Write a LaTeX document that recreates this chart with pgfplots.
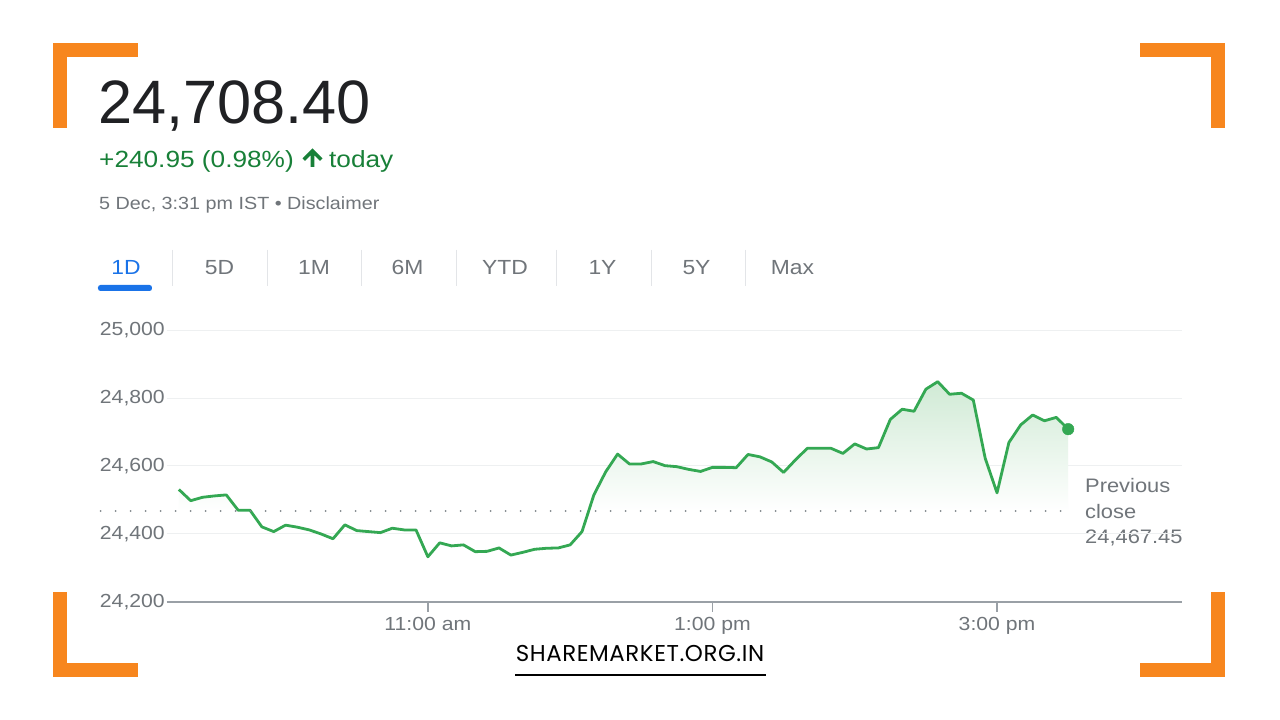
\documentclass[border=0pt]{standalone}
\usepackage{fontspec}
\usepackage{pgfplots}
\usepackage{pgfplotstable}
\pgfplotsset{compat=1.18}
\setmainfont{Liberation Sans}[FakeStretch=1.12]
\newfontfamily\plainsans{Liberation Sans}
\newfontfamily\wmfont{Poppins}[LetterSpace=2.5]
\definecolor{gtext}{HTML}{188038}
\definecolor{gline}{HTML}{34A853}
\definecolor{ggray}{HTML}{70757A}
\definecolor{gdark}{HTML}{202124}
\definecolor{gblue}{HTML}{1A73E8}
\definecolor{orng}{HTML}{F7861E}
\definecolor{gridc}{HTML}{EEF0F1}
\definecolor{axisc}{HTML}{9AA0A6}
\definecolor{sepc}{HTML}{E3E5E8}
\definecolor{dotc}{HTML}{80868B}
\definecolor{fillg}{HTML}{D0EAD5}
\pgfdeclareverticalshading{pcfill}{100bp}{color(0bp)=(white); color(25bp)=(white); color(38bp)=(white); color(75bp)=(fillg); color(100bp)=(fillg)}

\pgfplotstableread{
t v
555 24531
560 24498
565 24508
570 24512
575 24515
580 24470
585 24470
590 24421
595 24407
600 24426
605 24420
610 24412
615 24400
620 24386
625 24427
630 24410
635 24407
640 24404
645 24417
650 24412
655 24412
660 24333
665 24374
670 24365
675 24368
680 24348
685 24349
690 24359
695 24338
700 24346
705 24355
710 24358
715 24359
720 24368
725 24407
730 24515
735 24583
740 24635
745 24606
750 24606
755 24613
760 24601
765 24598
770 24590
775 24584
780 24596
785 24596
790 24595
795 24634
800 24627
805 24612
810 24581
815 24618
820 24652
825 24652
830 24652
835 24637
840 24665
845 24650
850 24654
855 24737
860 24767
865 24761
870 24826
875 24848
880 24811
885 24814
890 24794
895 24623
900 24521
905 24669
910 24721
915 24750
920 24733
925 24743
930 24708.4
}\pricedata

\begin{document}
\begin{tikzpicture}[x=1bp,y=1bp]
\useasboundingbox (-167,-118) rectangle (1113,602);
\begin{scope}[shift={(-167,-118)}]
\fill[white] (0,0) rectangle (1280,720);
% orange corner brackets
\fill[orng] (53,677) rectangle (138,663);
\fill[orng] (53,677) rectangle (67,592);
\fill[orng] (1140,677) rectangle (1225,663);
\fill[orng] (1211,677) rectangle (1225,592);
\fill[orng] (53,57) rectangle (138,43);
\fill[orng] (53,128) rectangle (67,43);
\fill[orng] (1140,57) rectangle (1225,43);
\fill[orng] (1211,128) rectangle (1225,43);

% header texts
\node[anchor=base west, inner sep=0, text=gdark] at (98,596) {\plainsans\fontsize{61.5}{62}\selectfont 24,708.40};
\node[anchor=base west, inner sep=0, text=gtext] at (99,552) {\fontsize{23.5}{24}\selectfont +240.95 (0.98\%)};
\fill[gtext] (302.5,561.5) -- (312.5,571.5) -- (322.5,561.5) -- (320,559) -- (314.3,564.7) -- (314.3,553) -- (310.7,553) -- (310.7,564.7) -- (305,559) -- cycle;
\node[anchor=base west, inner sep=0, text=gtext] at (329,552) {\fontsize{23.5}{24}\selectfont today};
\node[anchor=base west, inner sep=0, text=ggray] at (99,510) {\fontsize{17.7}{18}\selectfont 5 Dec, 3:31 pm IST • Disclaimer};

% tabs
\node[anchor=base, inner sep=0, text=gblue] at (126,445) {\fontsize{20.5}{21}\selectfont 1D};
\foreach \x/\l in {219.5/5D, 314/1M, 407.5/6M, 505/YTD, 602.5/1Y, 696.5/5Y, 792.5/Max}
  \node[anchor=base, inner sep=0, text=ggray] at (\x,445) {\fontsize{20.5}{21}\selectfont \l};
\foreach \x in {173,267,361,456,556,651,745}
  \draw[sepc, line width=1bp] (\x,470) -- (\x,434);
\fill[gblue, rounded corners=2.5bp] (98,429) rectangle (152,435);

% previous close label
\node[anchor=base west, inner sep=0, text=ggray] at (1085,227.5) {\fontsize{19.6}{20}\selectfont Previous};
\node[anchor=base west, inner sep=0, text=ggray] at (1085,201.7) {\fontsize{19.6}{20}\selectfont close};
\node[anchor=base west, inner sep=0, text=ggray] at (1085,176) {\fontsize{19.6}{20}\selectfont 24,467.45};

% watermark
\node[anchor=base, inner sep=0] at (640,58) {\wmfont\fontsize{23}{23}\selectfont SHAREMARKET.ORG.IN};
\fill[black] (515,44) rectangle (766,46);
\end{scope}

\begin{axis}[
  scale only axis,
  width=1015bp, height=272bp,
  xmin=550, xmax=978, ymin=24200, ymax=25000,
  clip=false, scaled ticks=false,
  axis line style={draw=none},
  tick style={draw=none}, major tick length=0pt,
  ytick={24200,24400,24600,24800,25000},
  yticklabels={{24,200},{24,400},{24,600},{24,800},{25,000}},
  xtick={660,780,900},
  xticklabels={11:00 am,1:00 pm,3:00 pm},
  ymajorgrids, grid style={gridc, line width=1bp},
  ticklabel style={font=\fontsize{19}{19}\selectfont, text=ggray},
  yticklabel style={anchor=east, inner sep=0pt, xshift=-2bp},
  xticklabel style={anchor=north, inner sep=0pt, yshift=-15bp},
]
\begin{scope}
\clip (axis cs:550,24467.45) rectangle (axis cs:978,25000);
\addplot[draw=none, shading=pcfill] table[x=t,y=v]{\pricedata} -- (axis cs:930,24467.45) -- (axis cs:555,24467.45) -- cycle;
\end{scope}
\addplot[gline, line width=2.8bp, line join=round] table[x=t,y=v]{\pricedata};
\addplot[dotc, line width=2bp, dash pattern=on 0pt off 15bp, line cap=round] coordinates {(522,24467.45) (931.3,24467.45)};
\addplot[only marks, mark=*, mark size=5.8bp, gline] coordinates {(930,24708.4)};
\draw[axisc, line width=2bp] (axis cs:550,24200) -- (axis cs:978,24200);
\draw[axisc, line width=1.3bp] (axis cs:660,24200) -- ++(0bp,-10bp);
\draw[axisc, line width=1.3bp] (axis cs:780,24200) -- ++(0bp,-10bp);
\draw[axisc, line width=1.3bp] (axis cs:900,24200) -- ++(0bp,-10bp);
\end{axis}
\end{tikzpicture}
\end{document}
